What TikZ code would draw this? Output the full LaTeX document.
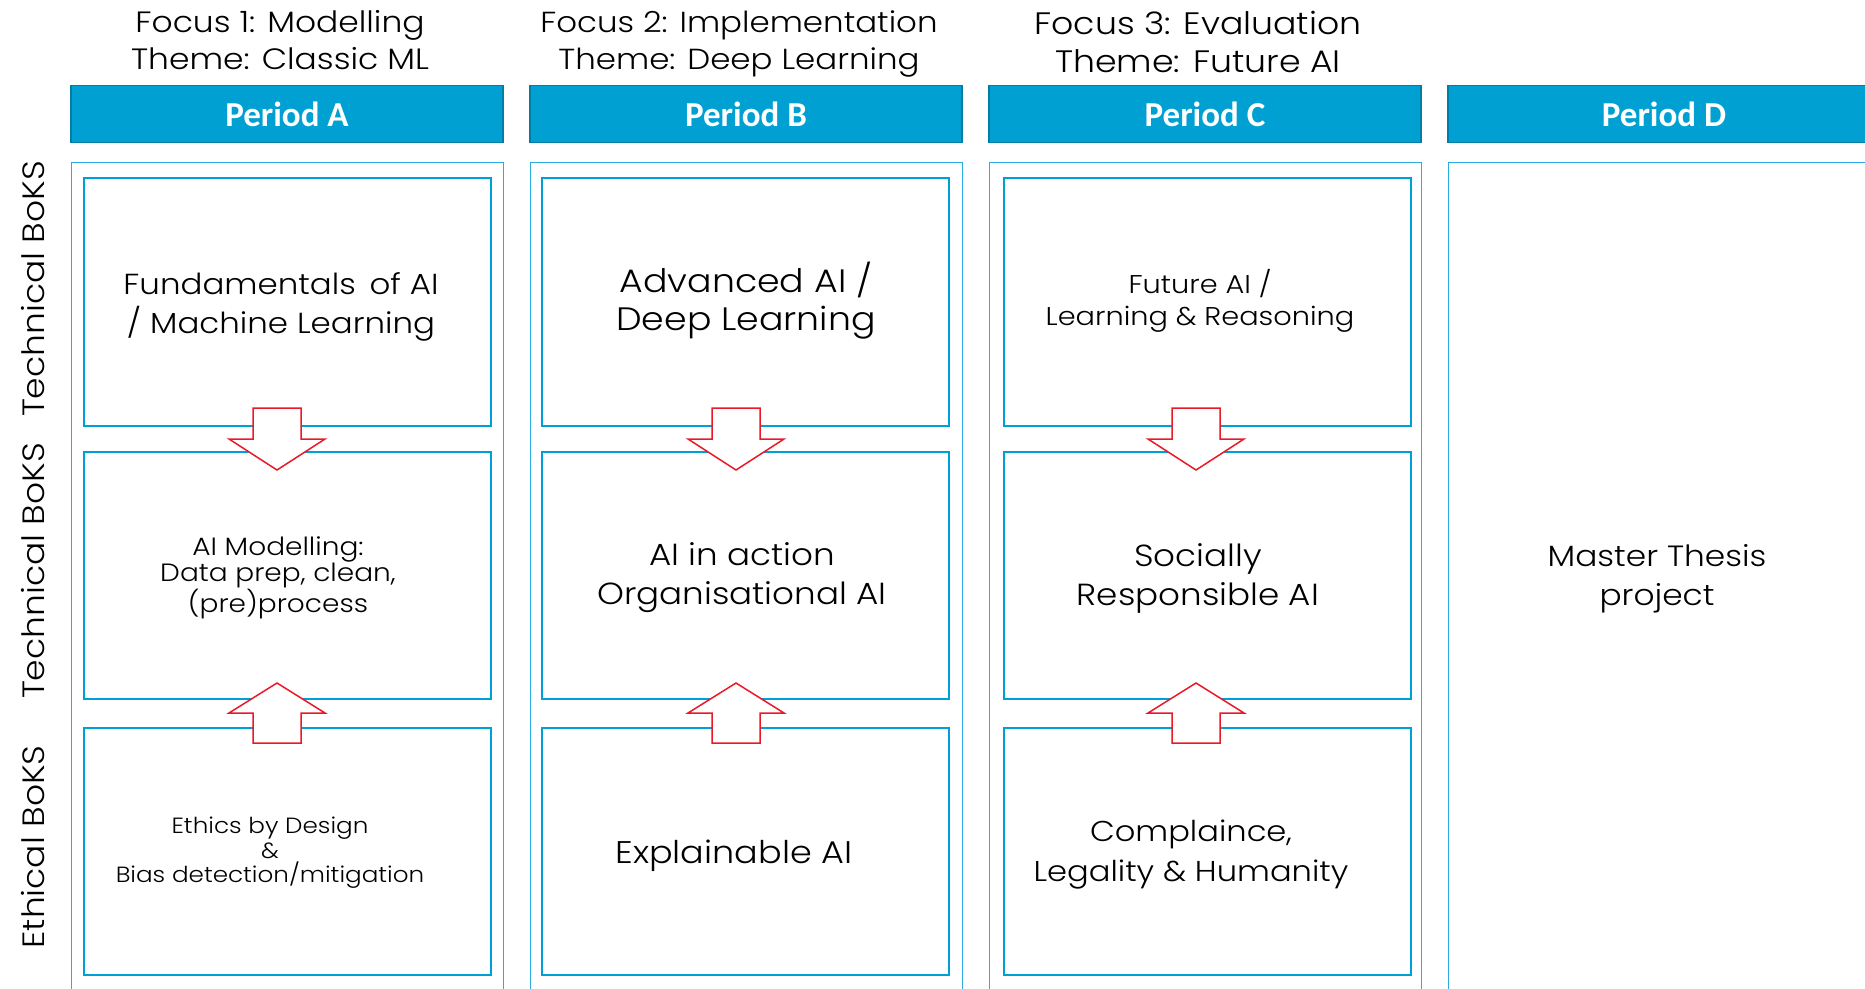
\documentclass[tikz,border=0pt]{standalone}
\usepackage{fontspec}
\setmainfont{Poppins Light}[FakeStretch=1.12]
\newfontfamily\carlito{Carlito}
\definecolor{hdrblue}{RGB}{0,161,210}
\definecolor{hdrline}{RGB}{0,125,165}
\definecolor{boxblue}{RGB}{0,160,215}
\definecolor{outerblue}{RGB}{40,172,225}
\definecolor{arrowred}{RGB}{235,25,40}
\tikzset{
  hdr/.style={fill=hdrblue, draw=hdrline, line width=1.2pt, minimum width=432pt, minimum height=57pt, inner sep=0pt, text=white, font=\carlito\bfseries\fontsize{35}{38}\selectfont},
  outerbox/.style={draw=outerblue, line width=1.4pt, minimum width=432pt, minimum height=850pt, inner sep=0pt, anchor=north west},
  innerbox/.style={draw=boxblue, line width=1.8pt, minimum width=407pt, inner sep=0pt, anchor=north west},
  focustxt/.style={align=center, inner sep=0pt, text=black},
  boxtxt/.style={align=center, inner sep=0pt, text=black},
  sidetxt/.style={rotate=90, inner sep=0pt, font=\fontsize{30.8}{33}\selectfont},
  blockarrow/.style={draw=arrowred, fill=white, line width=1.5pt, line join=miter}
}
\begin{document}
\begin{tikzpicture}[x=1pt,y=-1pt]
\clip (0,0) rectangle (1865,988);
\fill[white] (0,0) rectangle (1865,988);
% focus headers
\node[focustxt, font=\fontsize{29.4}{37}\selectfont] (f1) at (280,40) {Focus 1: Modelling\\Theme: Classic ML};
\node[focustxt, font=\fontsize{29}{37}\selectfont] (f2) at (739,43.5) {Focus 2: Implementation\\Theme: Deep Learning};
\node[focustxt, font=\fontsize{31}{38}\selectfont] (f3) at (1198,42) {Focus 3: Evaluation\\Theme: Future AI};
% period headers
\node[hdr] (pa) at (287,114) {Period A};
\node[hdr] (pb) at (746,114) {Period B};
\node[hdr] (pc) at (1205,114) {Period C};
\node[hdr] (pd) at (1664,114) {Period D};
% outer columns
\node[outerbox] (ca) at (71,162) {};
\node[outerbox] (cb) at (530,162) {};
\node[outerbox] (cc) at (989,162) {};
\node[outerbox] (cd) at (1448,162) {};
% inner boxes
\foreach \c/\x in {a/83, b/541, c/1003}{
  \node[innerbox, minimum height=248pt] (\c1) at (\x,177) {};
  \node[innerbox, minimum height=247pt] (\c2) at (\x,451) {};
  \node[innerbox, minimum height=247pt] (\c3) at (\x,727) {};
}
% block arrows
\foreach \cx in {277,736,1196}{
  \draw[blockarrow] ({\cx-24},408) -- ({\cx+24},408) -- ({\cx+24},439) -- ({\cx+48},439) -- (\cx,470) -- ({\cx-48},439) -- ({\cx-24},439) -- cycle;
  \draw[blockarrow] ({\cx-24},743) -- ({\cx+24},743) -- ({\cx+24},713) -- ({\cx+48},713) -- (\cx,683) -- ({\cx-48},713) -- ({\cx-24},713) -- cycle;
}
% side labels
\node[sidetxt] (s1) at (33,289) {Technical BoKS};
\node[sidetxt] (s2) at (33,571) {Technical BoKS};
\node[sidetxt] (s3) at (33,847) {Ethical BoKS};
% box texts
\node[boxtxt, font=\fontsize{29}{39}\selectfont] (ta1) at (281,307) {Fundamentals\, of AI\\/ Machine Learning};
\node[boxtxt, font=\fontsize{25}{26}\selectfont] (ta2) at (278,578) {AI Modelling:\\Data prep, clean,\\(pre)process};
\node[boxtxt, font=\fontsize{22}{24.5}\selectfont] (ta3) at (270,853) {Ethics by Design\\\&\\Bias detection/mitigation};
\node[boxtxt, font=\fontsize{32.4}{38}\selectfont] (tb1) at (746,301) {Advanced AI /\\Deep Learning};
\node[boxtxt, font=\fontsize{30.5}{39}\selectfont] (tb2) at (742,578) {AI in action\\Organisational AI};
\node[boxtxt, font=\fontsize{31.3}{39}\selectfont] (tb3) at (734,856) {Explainable AI};
\node[boxtxt, font=\fontsize{25.7}{32}\selectfont] (tc1) at (1200,301) {Future AI /\\Learning \& Reasoning};
\node[boxtxt, font=\fontsize{30.5}{39}\selectfont] (tc2) at (1198,578) {Socially\\Responsible AI};
\node[boxtxt, font=\fontsize{28.7}{40}\selectfont] (tc3) at (1191,855) {Complaince,\\Legality \& Humanity};
\node[boxtxt, font=\fontsize{29.3}{39}\selectfont] (td) at (1657,579) {Master Thesis\\project};
\end{tikzpicture}
\end{document}
